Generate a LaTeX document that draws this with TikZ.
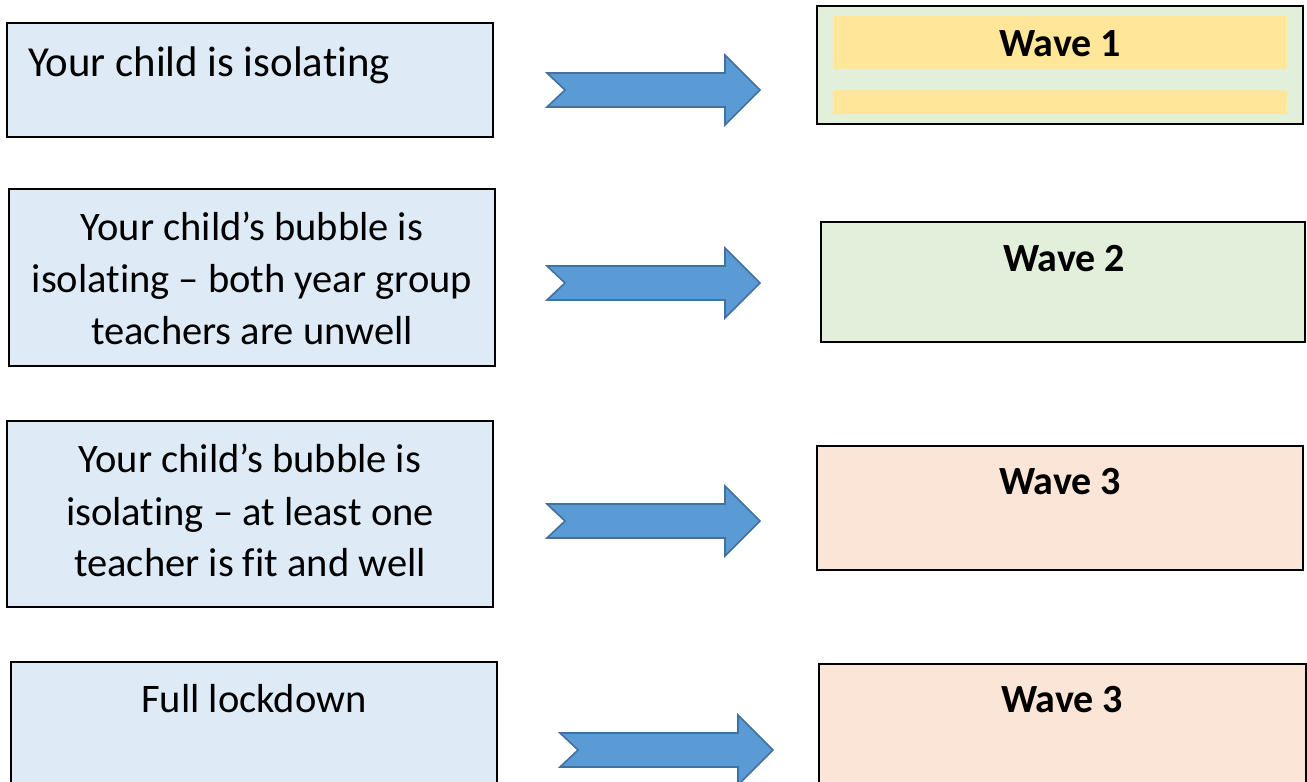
\documentclass[tikz,border=0pt]{standalone}
\usepackage{fontspec}
\setmainfont[Ligatures=NoCommon]{Carlito}
\definecolor{lblue}{HTML}{DEEBF7}
\definecolor{lgreen}{HTML}{E2EFDA}
\definecolor{lorange}{HTML}{FBE5D6}
\definecolor{lyellow}{HTML}{FFE699}
\definecolor{afill}{HTML}{5B9BD5}
\definecolor{aline}{HTML}{41719C}
\tikzset{
  box/.style={draw=black, line width=1.6pt},
  bluebox/.style={box, fill=lblue},
  greenbox/.style={box, fill=lgreen},
  orangebox/.style={box, fill=lorange},
  band/.style={fill=lyellow, draw=none},
  lefttext/.style={inner sep=0pt, font=\fontsize{40.5}{52}\selectfont, align=center},
  wavetext/.style={inner sep=0pt, font=\fontsize{40}{46}\selectfont\bfseries},
  blockarrow/.style={fill=afill, draw=aline, line width=1.6pt, line join=miter},
}
\newcommand\myarrow[1]{%
  \draw[blockarrow] (#1) ++(0,-17) -- ++(178,0) -- ++(0,-18) -- ++(35,35)
    -- ++(-35,35) -- ++(0,-18) -- ++(-178,0) -- ++(18,-17) -- cycle;}
\begin{document}
\begin{tikzpicture}[x=1pt,y=-1pt]
\useasboundingbox (0,0) rectangle (1307,782);
\clip (0,0) rectangle (1307,782);
% left boxes
\draw[bluebox] (7,23) rectangle (493,137);
\draw[bluebox] (9,189) rectangle (495,366);
\draw[bluebox] (7,421) rectangle (493,607);
\draw[bluebox] (11,662) rectangle (497,800);
\node[lefttext, font=\fontsize{42.8}{52}\selectfont, anchor=base west] (t1) at (28,76) {Your child is isolating};
\node[lefttext, anchor=base] (t2a) at (252,240) {Your child’s bubble is};
\node[lefttext, anchor=base] (t2b) at (252,292) {isolating – both year group};
\node[lefttext, anchor=base] (t2c) at (252,344) {teachers are unwell};
\node[lefttext, anchor=base] (t3a) at (250,472) {Your child’s bubble is};
\node[lefttext, anchor=base] (t3b) at (250,525) {isolating – at least one};
\node[lefttext, anchor=base] (t3c) at (250,576) {teacher is fit and well};
\node[lefttext, anchor=base] (t4) at (254,712) {Full lockdown};
% arrows
\coordinate (a1) at (547,90);
\coordinate (a2) at (547,283);
\coordinate (a3) at (547,521);
\coordinate (a4) at (560,750);
\myarrow{a1}
\myarrow{a2}
\myarrow{a3}
\myarrow{a4}
% right boxes
\draw[greenbox] (817,6) rectangle (1303,124);
\fill[band] (833,16) rectangle (1287,69);
\fill[band] (833,90) rectangle (1287,114);
\draw[greenbox] (821,222) rectangle (1305,342);
\draw[orangebox] (817,446) rectangle (1303,570);
\draw[orangebox] (819,664) rectangle (1306,800);
\node[wavetext, anchor=base] (w1) at (1060,56) {Wave 1};
\node[wavetext, anchor=base] (w2) at (1064,271) {Wave 2};
\node[wavetext, anchor=base] (w3) at (1060,494) {Wave 3};
\node[wavetext, anchor=base] (w4) at (1062,712) {Wave 3};
\end{tikzpicture}
\end{document}
